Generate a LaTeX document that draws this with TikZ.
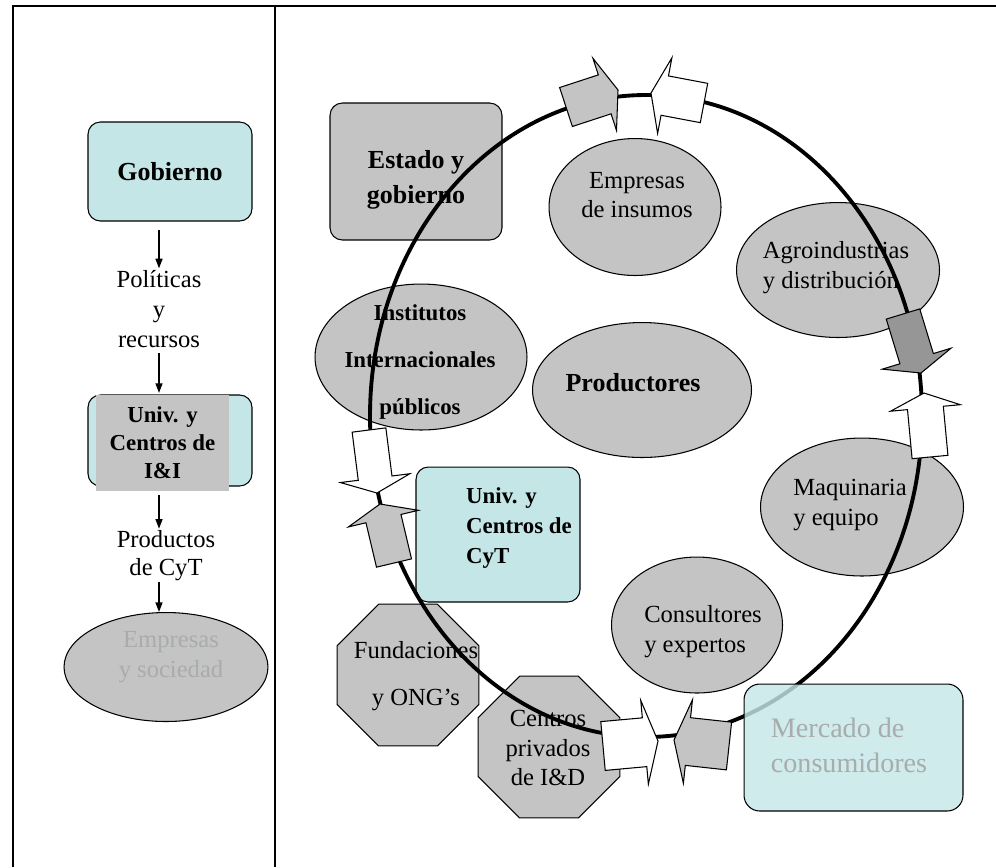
\documentclass[tikz,border=0pt]{standalone}
\usepackage{fontspec}
\setmainfont{Liberation Serif}
\usetikzlibrary{
	shapes.geometric,
	arrows.meta, calc
}

\definecolor{gris}{RGB}{196,196,196}
\definecolor{grisosc}{RGB}{150,150,150}
\definecolor{cian}{RGB}{196,230,230}
\definecolor{textoclaro}{RGB}{168,172,172}

\tikzset{
	texto/.style = {inner sep = 0pt, align = center, font = \fontsize{14}{17}\selectfont},
	negrita/.style = {texto, font = \fontsize{13}{17}\selectfont\bfseries},
	grande/.style = {texto, font = \fontsize{14.8}{20}\selectfont\bfseries},
	ovalo/.style = {ellipse, draw, line width = 0.6pt, fill = gris, inner sep = 0pt},
	caja/.style = {rectangle, draw, line width = 0.6pt, rounded corners = 7pt, inner sep = 0pt},
	octogono/.style = {regular polygon, regular polygon sides = 8, draw, line width = 0.6pt,
		fill = gris, inner sep = 0pt, minimum size = 3.07cm},
	flechita/.style = {line width = 0.8pt, -{Triangle[length = 5.5pt, width = 4pt]}},
	bloque/.style = {draw, line width = 0.6pt, line join = miter},
}

% flecha de bloque: cola, punta, medio cuerpo, media cabeza, largo cabeza, relleno
\newcommand{\bloqueflecha}[6]{%
	\coordinate (cuello) at ($(#2)!#5!(#1)$);
	\draw[bloque, fill = #6]
		($(#1)!#3!90:(#2)$) -- ($(cuello)!#3!90:(#2)$)
		-- ($(cuello)!#4!90:(#2)$) -- (#2)
		-- ($(cuello)!#4!-90:(#2)$) -- ($(cuello)!#3!-90:(#2)$)
		-- ($(#1)!#3!-90:(#2)$) -- cycle;
}

\begin{document}
\begin{tikzpicture}[x = 0.02cm, y = -0.02cm]

	% márgenes del dibujo
	\useasboundingbox (0,0) rectangle (996,867);
	\draw[line width = 1.1pt] (13,867) -- (13,6) -- (996,6);
	\draw[line width = 0.7pt] (275,6) -- (275,867);

	% columna izquierda
	\node[caja, grande, fill = cian, minimum width = 3.28cm, minimum height = 1.98cm]
		(gob) at (170,171.5) {Gobierno};
	\node[caja, fill = cian, minimum width = 3.28cm, minimum height = 1.82cm]
		(univfondo) at (170,440.5) {};
	\node[negrita, fill = gris, minimum width = 2.66cm, minimum height = 1.92cm,
		font = \fontsize{13}{16}\selectfont\bfseries]
		(univ) at (162.5,443) {Univ. y\\Centros de\\I\&I};
	\node[texto] (pol) at (159,309) {Políticas\\y\\recursos};
	\node[texto, font = \fontsize{14}{16}\selectfont] (prodcyt) at (166,556) {Productos\\de CyT};
	\node[ovalo, minimum width = 4.08cm, minimum height = 2.18cm] (emp) at (166,667) {};
	\node[texto, text = textoclaro] (emptxt) at (171,657) {Empresas\\y sociedad};

	\coordinate (eje) at (159,0);
	\draw[flechita, shorten <= 5pt, shorten >= 1pt] (eje |- gob.south) -- (eje |- pol.north);
	\draw[flechita, shorten <= 3pt, shorten >= 1pt] (eje |- pol.south) -- (eje |- univ.north);
	\draw[flechita, shorten <= 2pt, shorten >= 1pt] (eje |- univ.south) -- (eje |- prodcyt.north);
	\draw[flechita] (eje |- prodcyt.south) -- (eje |- emp.north);

	% actores del sistema
	\node[caja, fill = gris, minimum width = 3.44cm, minimum height = 2.74cm] (estado) at (416,171.5) {};
	\node[grande] (estadotxt) at (416,180) {Estado y\\gobierno};

	\node[ovalo, minimum width = 3.44cm, minimum height = 2.74cm] (insumos) at (635,207) {};
	\node[texto] (insumostxt) at (637,195) {Empresas\\de insumos};

	\node[ovalo, minimum width = 4.06cm, minimum height = 2.70cm] (agro) at (838,270) {};
	\node[texto, align = left] (agrotxt) at (836,268) {Agroindustrias\\y distribución};

	\node[ovalo, minimum width = 4.24cm, minimum height = 2.92cm] (inst) at (421,357) {};
	\node[negrita] (insttxt) at (420,362) {Institutos\\[9.5pt]Internacionales\\[9.5pt]públicos};

	\node[ovalo, minimum width = 4.38cm, minimum height = 2.70cm] (prod) at (642,390) {};
	\node[grande] (prodtxt) at (633,383) {Productores};

	\node[ovalo, minimum width = 4.06cm, minimum height = 2.76cm] (maq) at (862,507) {};
	\node[texto, align = left] (maqtxt) at (850,505) {Maquinaria\\y equipo};

	\node[caja, fill = cian, minimum width = 3.28cm, minimum height = 2.70cm] (univcyt) at (498,534.5) {};
	\node[negrita, align = left] (univcyttxt) at (519,528) {Univ. y\\Centros de\\CyT};

	\node[ovalo, minimum width = 3.42cm, minimum height = 2.72cm] (cons) at (697,625) {};
	\node[texto, align = left] (constxt) at (703,632) {Consultores\\y expertos};

	\node[octogono] (fund) at (408,675) {};
	\node[texto] (fundtxt) at (416,676) {Fundaciones\\[10pt]y ONG’s};

	\node[octogono] (cpriv) at (549,747) {};
	\node[texto] (cprivtxt) at (548,748) {Centros\\privados\\de I\&D};

	% trayectoria
	\draw[line width = 2.2pt] (646,416) ellipse [x radius = 276, y radius = 321];

	% flechas sobre la trayectoria
	\coordinate (cola1) at (566,107); \coordinate (punta1) at (618,90);
	\coordinate (cola2) at (704,103); \coordinate (punta2) at (651,93);
	\coordinate (cola3) at (903,314); \coordinate (punta3) at (921,373);
	\coordinate (cola4) at (930,457); \coordinate (punta4) at (924,393);
	\coordinate (cola5) at (369,430); \coordinate (punta5) at (377,493);
	\coordinate (cola6) at (394,563); \coordinate (punta6) at (380,504);
	\coordinate (cola7) at (603,746); \coordinate (punta7) at (658,741);
	\coordinate (cola8) at (729,746); \coordinate (punta8) at (674,740);

	\foreach \i/\bw/\hw/\hl/\col in {
		1/0.41/0.76/0.28/gris, 2/0.40/0.77/0.28/white,
		3/0.35/0.72/0.30/grisosc, 4/0.36/0.70/0.30/white,
		5/0.34/0.70/0.30/white, 6/0.36/0.72/0.30/gris,
		7/0.49/0.84/0.27/white, 8/0.48/0.84/0.28/gris}
		\bloqueflecha{cola\i}{punta\i}{\bw cm}{\hw cm}{\hl cm}{\col};

	% mercado, por encima de la trayectoria
	\node[caja, rounded corners = 9pt, fill = cian, fill opacity = 0.82,
		minimum width = 4.38cm, minimum height = 2.54cm] (mercado) at (853.5,747.5) {};
	\node[texto, align = left, text = textoclaro, font = \fontsize{16}{20}\selectfont]
		(mercadotxt) at (849,745) {Mercado de\\consumidores};

\end{tikzpicture}
\end{document}
